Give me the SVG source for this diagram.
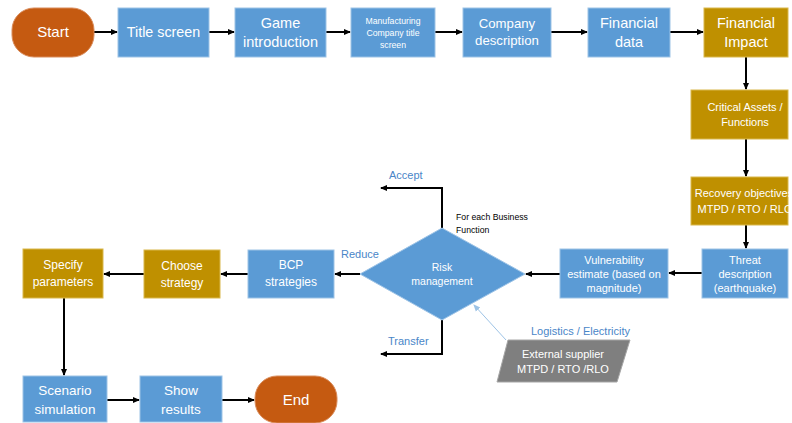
<svg xmlns="http://www.w3.org/2000/svg" width="792" height="423" viewBox="0 0 792 423">
<style>
text{font-family:"Liberation Sans",Arial,sans-serif;fill:#fff;text-anchor:middle}
.b{fill:#5b9bd5;stroke:#9dc3e6;stroke-width:1}
.g{fill:#bf9000;stroke:#d9b84c;stroke-width:1}
.o{fill:#c55a11;stroke:#d98b5a;stroke-width:1}
.c{stroke:#000;stroke-width:2;fill:none;marker-end:url(#ah)}
.lbl{fill:#4a86c8;text-anchor:start}
</style>
<defs>
<marker id="ah" markerWidth="8" markerHeight="8" refX="6" refY="4" orient="auto" markerUnits="userSpaceOnUse"><path d="M0,1 L7,4 L0,7 Z" fill="#000"/></marker>
<marker id="ahb" markerWidth="8" markerHeight="8" refX="6" refY="4" orient="auto" markerUnits="userSpaceOnUse"><path d="M0,1 L7,4 L0,7 Z" fill="#9dc3e6"/></marker>
</defs>
<rect width="792" height="423" fill="#fff"/>
<g id="connectors">
<path class="c" d="M94,32 H117"/>
<path class="c" d="M209,32 H234"/>
<path class="c" d="M326,32 H350"/>
<path class="c" d="M435,32 H462"/>
<path class="c" d="M551,32 H587"/>
<path class="c" d="M670,32 H703"/>
<path class="c" d="M746,57 V89"/>
<path class="c" d="M746,139 V176"/>
<path class="c" d="M746,225 V248"/>
<path class="c" d="M702,273 H669"/>
<path class="c" d="M560,274 H526"/>
<path class="c" d="M360,274 H335"/>
<path class="c" d="M248,274 H221"/>
<path class="c" d="M144,274 H104"/>
<path class="c" d="M64,298 V375"/>
<path class="c" d="M107,400 H139"/>
<path class="c" d="M222,400 H254"/>
<path class="c" d="M442,228 V188 H381"/>
<path class="c" d="M442,320 V354 H381"/>
<path d="M506,340 L474,305" stroke="#9dc3e6" stroke-width="1" fill="none" marker-end="url(#ahb)"/>
</g>
<g id="start"><rect class="o" x="12" y="8" width="82" height="49" rx="22"/><text x="53" y="37" font-size="15">Start</text></g>
<g id="title"><rect class="b" x="118" y="8" width="91" height="49"/><text x="163.5" y="37" font-size="14.3">Title screen</text></g>
<g id="intro"><rect class="b" x="235" y="8" width="91" height="49"/><text x="280.5" y="28" font-size="14.5">Game</text><text x="280.5" y="47" font-size="14.5">introduction</text></g>
<g id="manuf"><rect class="b" x="351" y="8" width="84" height="49"/><text x="393" y="24" font-size="8.7">Manufacturing</text><text x="393" y="36" font-size="8.7">Company title</text><text x="393" y="48" font-size="8.7">screen</text></g>
<g id="company"><rect class="b" x="463" y="8" width="88" height="49"/><text x="507" y="28" font-size="13.2">Company</text><text x="507" y="45" font-size="13.2">description</text></g>
<g id="findata"><rect class="b" x="588" y="8" width="82" height="49"/><text x="629" y="28" font-size="14.5">Financial</text><text x="629" y="47" font-size="14.5">data</text></g>
<g id="finimpact"><rect class="g" x="704" y="8" width="84" height="49"/><text x="746" y="28" font-size="14.5">Financial</text><text x="746" y="47" font-size="14.5">Impact</text></g>
<g id="critical"><rect class="g" x="691" y="90" width="97" height="49"/><text x="745" y="111" font-size="11">Critical Assets /</text><text x="745" y="126" font-size="11">Functions</text></g>
<g id="recovery"><rect class="g" x="691" y="177" width="97" height="48"/><text x="744" y="197" font-size="11">Recovery objectives</text><text x="745" y="213" font-size="11">MTPD / RTO / RLO</text></g>
<g id="threat"><rect class="b" x="702" y="249" width="86" height="49"/><text x="745" y="264" font-size="11">Threat</text><text x="745" y="278" font-size="11">description</text><text x="745" y="292" font-size="11">(earthquake)</text></g>
<g id="vuln"><rect class="b" x="560" y="249" width="108" height="49"/><text x="614" y="264" font-size="11">Vulnerability</text><text x="614" y="278" font-size="11">estimate (based on</text><text x="614" y="292" font-size="11">magnitude)</text></g>
<g id="risk"><polygon points="442,228 525,274 442,320 360,274" fill="#5b9bd5" stroke="#9dc3e6" stroke-width="1"/><text x="442" y="271" font-size="10.5">Risk</text><text x="442" y="285" font-size="10.5">management</text></g>
<g id="bcp"><rect class="b" x="248" y="250" width="86" height="48"/><text x="291" y="269" font-size="12">BCP</text><text x="291" y="286" font-size="12">strategies</text></g>
<g id="choose"><rect class="g" x="144" y="250" width="76" height="48"/><text x="182" y="270" font-size="12">Choose</text><text x="182" y="287" font-size="12">strategy</text></g>
<g id="specify"><rect class="g" x="23" y="249" width="80" height="49"/><text x="63" y="269" font-size="12">Specify</text><text x="63" y="286" font-size="12">parameters</text></g>
<g id="scenario"><rect class="b" x="23" y="376" width="84" height="46"/><text x="65" y="395" font-size="13.5">Scenario</text><text x="65" y="414" font-size="13.5">simulation</text></g>
<g id="show"><rect class="b" x="140" y="376" width="82" height="46"/><text x="181" y="395" font-size="13.5">Show</text><text x="181" y="414" font-size="13.5">results</text></g>
<g id="end"><rect class="o" x="255" y="376" width="82" height="47" rx="22"/><text x="296" y="405" font-size="15">End</text></g>
<g id="supplier"><polygon points="508,340 630,340 617,382 497,382" fill="#7f7f7f" stroke="#a6a6a6" stroke-width="1"/><text x="563" y="358" font-size="11">External supplier</text><text x="563" y="373" font-size="11">MTPD / RTO /RLO</text></g>
<g id="labels">
<text class="lbl" x="389" y="179" font-size="11">Accept</text>
<text class="lbl" x="341" y="258" font-size="11">Reduce</text>
<text class="lbl" x="388" y="345" font-size="11">Transfer</text>
<text class="lbl" x="531" y="335" font-size="11">Logistics / Electricity</text>
<text x="456" y="220" font-size="8.7" style="fill:#000;text-anchor:start">For each Business</text>
<text x="456" y="233" font-size="8.7" style="fill:#000;text-anchor:start">Function</text>
</g>
</svg>
